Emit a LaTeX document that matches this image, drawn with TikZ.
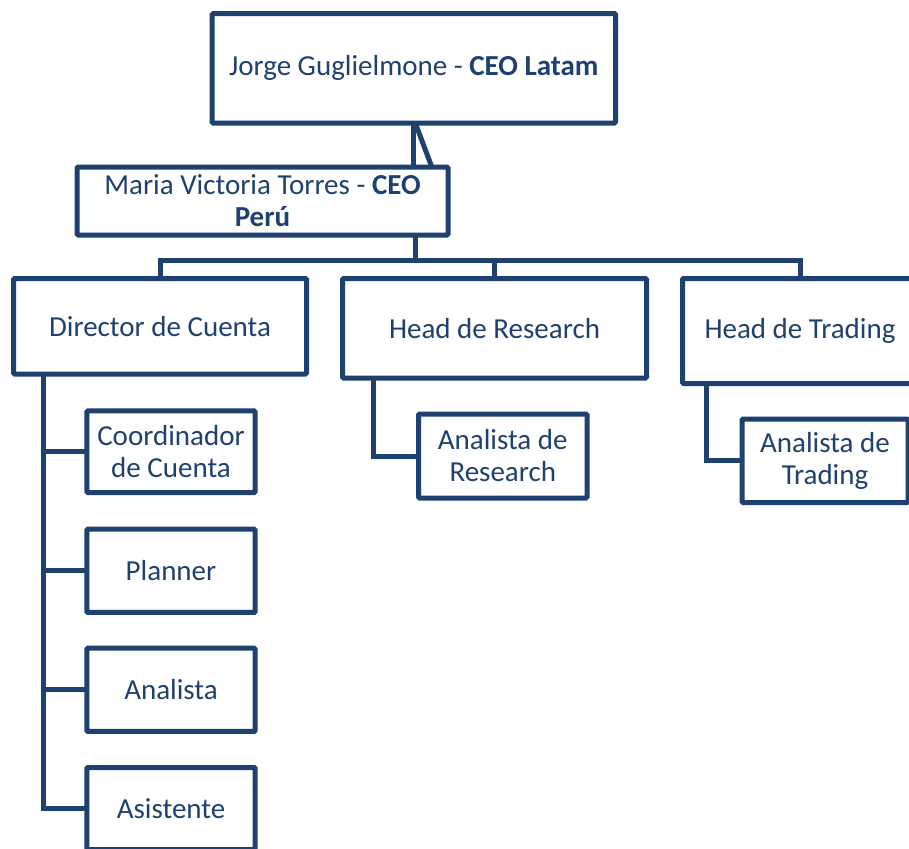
\documentclass[tikz,border=0pt]{standalone}
\usepackage{fontspec}
\setmainfont{Carlito}
\usetikzlibrary{calc}
\definecolor{navy}{RGB}{31,65,111}

\begin{document}
\begin{tikzpicture}[x=0.5pt, y=-0.5pt,
		box/.style={draw=navy, line width=2.5pt, fill=white, text=navy, align=center,
			inner sep=2pt, outer sep=0pt, rounded corners=0.6pt,
			font=\fontsize{14.5}{16}\selectfont},
		link/.style={draw=navy, line width=2.5pt, line join=miter}]
		%%%%% START %%%%%
		
		\clip (0, 0) rectangle (909, 848);
		
		% top level
		\node[box, minimum width=201.75pt, minimum height=54.75pt] (latam) at (413.8, 68.3) {Jorge Guglielmone - \textbf{CEO Latam}};
		\node[box, minimum width=185.5pt, minimum height=34pt] (peru) at (262.5, 201) {Maria Victoria Torres - \textbf{CEO}\\\textbf{Perú}};
		
		% heads
		\node[box, minimum width=146.5pt, minimum height=47.75pt] (dir) at (160, 326.25) {Director de Cuenta};
		\node[box, minimum width=152pt, minimum height=49.75pt] (research) at (494.5, 328.25) {Head de Research};
		\node[box, minimum width=117.5pt, minimum height=52.5pt] (trading) at (800, 331) {Head de Trading};
		
		% analysts
		\node[box, minimum width=84.25pt, minimum height=42pt] (anres) at (502.75, 456) {Analista de\\Research};
		\node[box, minimum width=83pt, minimum height=41.75pt] (antrad) at (825, 460.75) {Analista de\\Trading};
		
		% account team
		\node[box, minimum width=84.2pt, minimum height=40.85pt] (coord) at (171, 451.7) {Coordinador\\de Cuenta};
		\node[box, minimum width=84.2pt, minimum height=41.65pt] (planner) at (171, 570.8) {Planner};
		\node[box, minimum width=84.2pt, minimum height=41.65pt] (analista) at (171, 689.8) {Analista};
		\node[box, minimum width=84.2pt, minimum height=41pt] (asis) at (171, 808.5) {Asistente};
		
		% latam -> peru
		\draw[link] (latam.south) -- (latam.south |- peru.north);
		\draw[link] ($(latam.south)+(1.5, 0)$) -- ($(latam.south |- peru.north)+(18, 0)$);
		
		% peru -> heads
		\coordinate (hub) at (415.5, 260.5);
		\draw[link] (hub |- peru.south) -- (hub);
		\draw[link] (dir.north) |- (hub);
		\draw[link] (trading.north) |- (hub);
		\draw[link] (research.north) -- (research.north |- hub);
		
		% heads -> analysts
		\draw[link] ($(research.south west)+(30.5, 0)$) |- (anres.west);
		\draw[link] ($(trading.south west)+(24, 0)$) |- (antrad.west);
		
		% director -> team
		\coordinate (spine) at ($(dir.south west)+(30, 0)$);
		\draw[link] (spine) |- (asis.west);
		\draw[link] (spine |- coord.west) -- (coord.west);
		\draw[link] (spine |- planner.west) -- (planner.west);
		\draw[link] (spine |- analista.west) -- (analista.west);
		
		%%%%% END %%%%%
	\end{tikzpicture}
\end{document}
